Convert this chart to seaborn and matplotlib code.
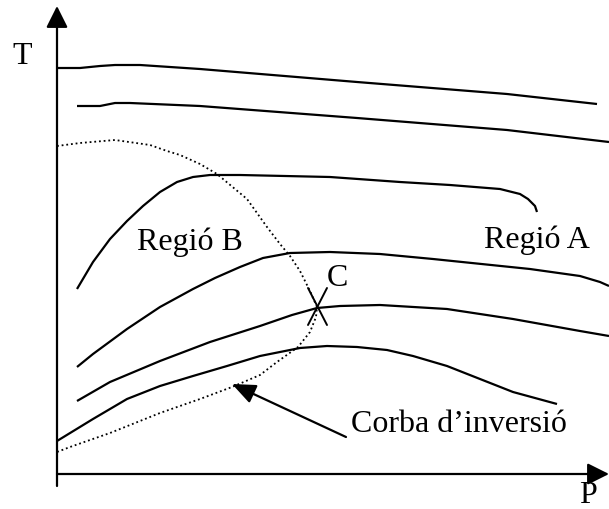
import matplotlib
matplotlib.use("Agg")
import matplotlib.pyplot as plt
from matplotlib.patches import ArrowStyle
import seaborn as sns
import pandas as pd

# Isenthalpic curves in the P–T plane (P, T in drawing units, origin at the axes corner)
curve_1_p = [0, 23, 43, 58, 83, 143, 300, 450, 540]
curve_1_t = [406, 406, 408, 409, 409, 405, 392, 380, 370]

curve_2_p = [20, 43, 58, 73, 143, 300, 450, 552]
curve_2_t = [368, 368, 371, 371, 368, 356, 344, 332]

curve_3_p = [20, 36, 53, 70, 86, 103, 120, 136, 153, 183, 273, 343, 393, 443, 463, 471, 478, 480]
curve_3_t = [185, 212, 235, 253, 268, 282, 292, 297, 299, 299, 297, 292, 289, 285, 280, 275, 268, 262]

curve_4_p = [20, 36, 70, 103, 136, 158, 183, 206, 233, 273, 323, 376, 473, 523, 543, 552]
curve_4_t = [107, 120, 145, 167, 185, 196, 207, 216, 221, 222, 220, 215, 205, 198, 192, 188]

curve_5_p = [20, 53, 103, 153, 203, 235, 260, 283, 323, 390, 456, 523, 552]
curve_5_t = [73, 92, 113, 132, 148, 159, 166, 168, 169, 165, 155, 143, 138]

curve_6_p = [0, 36, 70, 103, 136, 170, 203, 243, 270, 300, 330, 356, 390, 423, 456, 500]
curve_6_t = [33, 55, 75, 88, 98, 108, 118, 126, 128, 127, 124, 118, 108, 95, 82, 70]

# Inversion curve (dotted)
inversion_p = [0, 23, 58, 93, 110, 123, 143, 160, 190, 210, 223, 233, 243, 253, 260,
               259, 253, 241, 220, 203, 175, 143, 103, 53, 13, 0]
inversion_t = [328, 331, 334, 329, 323, 319, 310, 300, 275, 247, 230, 218, 203, 183, 167,
               157, 142, 127, 112, 99, 87, 75, 61, 41, 27, 22]

# Point C on the inversion curve
point_c = (260, 167)

labels = {
    "T": (-35, 418),
    "P": (531, -21),
    "Regió B": (133, 233),
    "Regió A": (480, 235),
    "C": (280, 197),
    "Corba d\u2019inversió": (402, 50),
}
arrow_tail = (289, 37)
arrow_head = (175, 90)

sns.set_theme(style="white")
plt.rcParams["font.family"] = ["Liberation Serif", "DejaVu Serif"]

fig = plt.figure(figsize=(6.09, 5.10), dpi=100)
ax = fig.add_axes([0, 0, 1, 1])
ax.set_xlim(-57, 552)
ax.set_ylim(-35, 475)
ax.axis("off")

ink = "black"
solid = [(curve_1_p, curve_1_t), (curve_2_p, curve_2_t), (curve_3_p, curve_3_t),
         (curve_4_p, curve_4_t), (curve_5_p, curve_5_t), (curve_6_p, curve_6_t)]
for p, t in solid:
    df = pd.DataFrame({"P": p, "T": t})
    sns.lineplot(data=df, x="P", y="T", sort=False, estimator=None, ax=ax,
                 color=ink, lw=1.6, solid_joinstyle="round", solid_capstyle="butt")

inv = pd.DataFrame({"P": inversion_p, "T": inversion_t})
sns.lineplot(data=inv, x="P", y="T", sort=False, estimator=None, ax=ax,
             color=ink, lw=1.3, linestyle=(0, (1.0, 1.6)))

# Cross marking C
cx, cy = point_c
ax.plot([cx - 9, cx + 10], [cy + 19, cy - 18], color=ink, lw=1.4)
ax.plot([cx + 10, cx - 9], [cy + 19, cy - 18], color=ink, lw=1.4)

# Axes with arrows
head = ArrowStyle("-|>", head_length=1.1, head_width=0.55)
ax.annotate("", xy=(0, 468), xytext=(0, -12),
            arrowprops=dict(arrowstyle=head, color=ink, lw=1.6, shrinkA=0, shrinkB=0))
ax.annotate("", xy=(552, 0), xytext=(0, 0),
            arrowprops=dict(arrowstyle=head, color=ink, lw=1.6, shrinkA=0, shrinkB=0))

# Pointer to the inversion curve
ax.annotate("", xy=arrow_head, xytext=arrow_tail,
            arrowprops=dict(arrowstyle=ArrowStyle("-|>", head_length=1.2, head_width=0.5),
                            color=ink, lw=1.6, shrinkA=0, shrinkB=0))

for text, (x, y) in labels.items():
    ax.text(x, y, text, fontsize=23, ha="center", va="center", color=ink)

ax.set_xlabel("")
ax.set_ylabel("")
fig.savefig("out.png", dpi=100)
